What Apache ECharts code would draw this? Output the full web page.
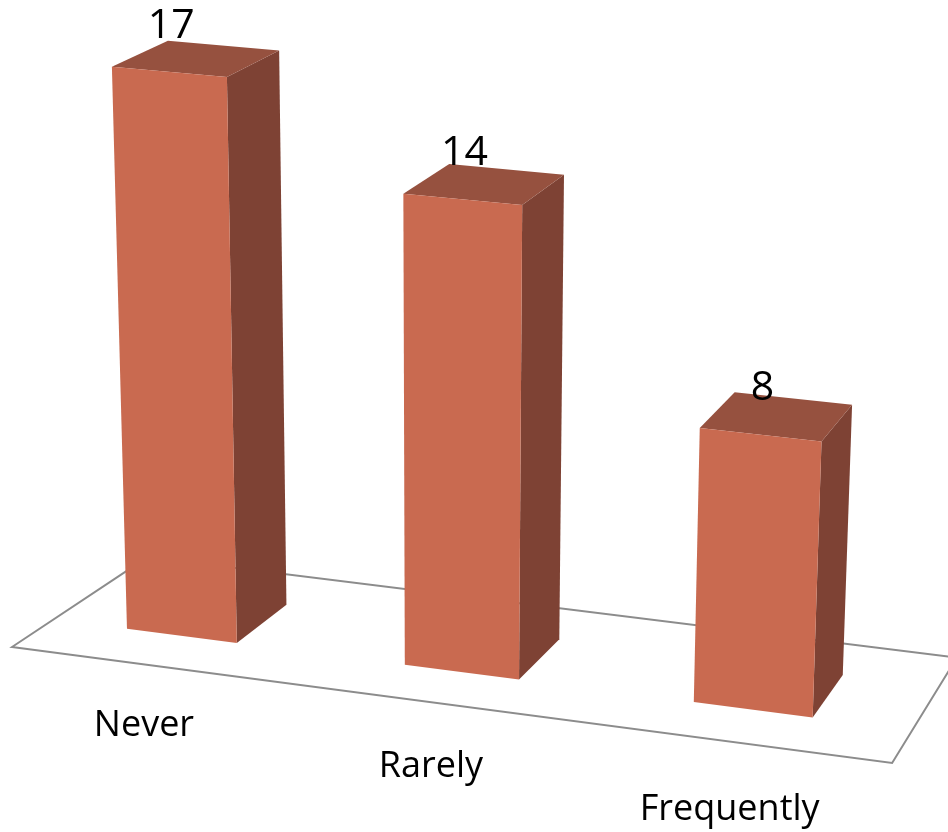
<!DOCTYPE html>
<html>
<head>
<meta charset="utf-8">
<style>
  html, body { margin: 0; padding: 0; background: #ffffff; }
  #chart { width: 948px; height: 832px; }
</style>
<script src="https://cdn.jsdelivr.net/npm/echarts@6/dist/echarts.min.js"></script>
</head>
<body>
<div id="chart"></div>
<script>
// Data
const categories = ['Never', 'Rarely', 'Frequently'];
const values = [17, 14, 8];

// Value axis range of the (hidden) cartesian frame the boxes are built on
const Y_MAX = 20;

// Perspective camera: screen offsets (px) for unit projective steps along each world axis
const DIR_X = [14012, 1847];    // along the category axis
const DIR_Z = [1608, -1067];    // into the depth of the floor
const DIR_Y = 11683;            // upwards
const LEAN_POINT = [429, 11683]; // vertical edges converge here (relative to the origin)
const HEIGHT_FALLOFF_X = 0.9;   // how strongly heights grow towards the near (right) side
const HEIGHT_FALLOFF_Z = 0.55;  // how strongly heights shrink with depth
const U_SPAN = 0.0591;          // floor width in projective units
const W_FLOOR = 0.092;          // floor depth in projective units
const V_UNIT = 0.002857;        // height of one value unit in projective units
const BAR_FRONT = 0.29, BAR_BACK = 0.70; // box depth as fractions of the floor depth
const BAR_WIDTH = 0.4, BAR_SHIFT = -0.03; // fractions of one category band

const COLOR_FRONT = '#C96A50';
const COLOR_SIDE = '#7E4234';
const COLOR_TOP = '#96513F';
const FLOOR_LINE = '#8C8C8C';
const FONT = '"Open Sans", "Liberation Sans", sans-serif';

function project(origin, u, v, w) {
  const h = 1 - u + w;
  const bx = (u * DIR_X[0] + w * DIR_Z[0]) / h;
  const by = (u * DIR_X[1] + w * DIR_Z[1]) / h;
  const hy = 1 - HEIGHT_FALLOFF_X * u + HEIGHT_FALLOFF_Z * w;
  const dy = v * DIR_Y / hy;
  const dx = dy * (bx - LEAN_POINT[0]) / (LEAN_POINT[1] - by);
  return [origin[0] + bx + dx, origin[1] + by - dy];
}

function renderFloor(params, api) {
  const cs = params.coordSys;
  const origin = [cs.x, cs.y + cs.height];
  const pts = [
    project(origin, 0, 0, 0),
    project(origin, U_SPAN, 0, 0),
    project(origin, U_SPAN, 0, W_FLOOR),
    project(origin, 0, 0, W_FLOOR)
  ];
  return {
    type: 'polygon',
    shape: { points: pts },
    style: { fill: null, stroke: FLOOR_LINE, lineWidth: 2 },
    silent: true
  };
}

function renderBox(params, api) {
  const cs = params.coordSys;
  const origin = [cs.x, cs.y + cs.height];
  const idx = api.value(0);
  const val = api.value(1);
  const top = api.coord([idx, val]);
  const base = api.coord([idx, 0]);
  const band = api.size([1, 0])[0];
  const uc = U_SPAN * (base[0] - cs.x + BAR_SHIFT * band) / cs.width;
  const hw = U_SPAN * BAR_WIDTH * band / 2 / cs.width;
  const v = V_UNIT * Y_MAX * (base[1] - top[1]) / cs.height;
  const w0 = W_FLOOR * BAR_FRONT, w1 = W_FLOOR * BAR_BACK;
  const P = (u, vv, w) => project(origin, u, vv, w);

  const fbl = P(uc - hw, 0, w0), fbr = P(uc + hw, 0, w0);
  const ftl = P(uc - hw, v, w0), ftr = P(uc + hw, v, w0);
  const bbr = P(uc + hw, 0, w1);
  const btl = P(uc - hw, v, w1), btr = P(uc + hw, v, w1);

  const ftc = P(uc, v, w0);
  const fe = P(uc, 0, 0);
  // category captions sit a little further below the floor edge on the near side
  const captionGap = 62 + 160 * (uc - U_SPAN / 6);

  return {
    type: 'group',
    children: [
      { type: 'polygon', shape: { points: [fbr, bbr, btr, ftr] }, style: { fill: COLOR_SIDE } },
      { type: 'polygon', shape: { points: [ftl, ftr, btr, btl] }, style: { fill: COLOR_TOP } },
      { type: 'polygon', shape: { points: [fbl, fbr, ftr, ftl] }, style: { fill: COLOR_FRONT } },
      {
        type: 'text',
        style: {
          text: String(val), x: ftc[0] + 2, y: ftc[1] - 46,
          align: 'center', verticalAlign: 'middle',
          fontSize: 41, fontFamily: FONT, fill: '#000000'
        }
      },
      {
        type: 'text',
        style: {
          text: categories[idx], x: fe[0] + 1, y: fe[1] + captionGap,
          align: 'center', verticalAlign: 'middle',
          fontSize: 36, fontFamily: FONT, fill: '#000000'
        }
      }
    ]
  };
}

const chart = echarts.init(document.getElementById('chart'), null, { renderer: 'canvas' });
chart.setOption({
  backgroundColor: '#ffffff',
  animation: false,
  grid: { left: 12, top: 47, width: 880, height: 600 },
  xAxis: { type: 'category', data: categories, show: false },
  yAxis: { type: 'value', min: 0, max: Y_MAX, show: false },
  series: [
    {
      type: 'custom',
      renderItem: renderFloor,
      data: [[0, 0]],
      z: 1,
      silent: true
    },
    {
      type: 'custom',
      renderItem: renderBox,
      data: values.map((v, i) => [i, v]),
      z: 2
    }
  ]
});
</script>
</body>
</html>
